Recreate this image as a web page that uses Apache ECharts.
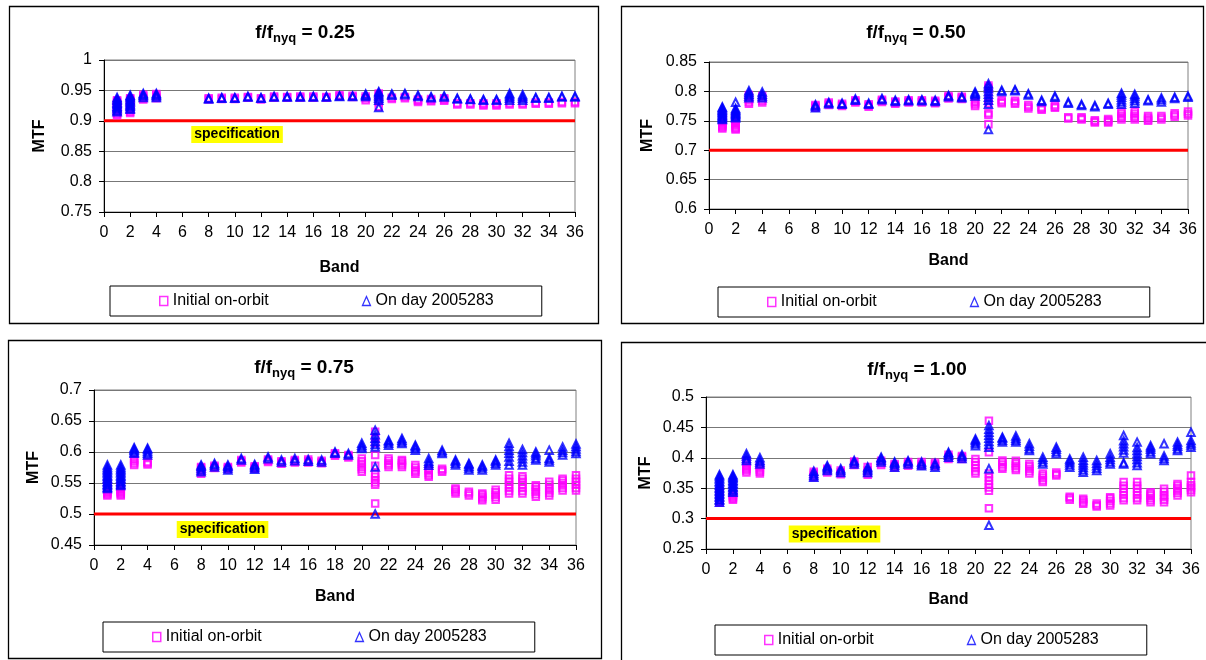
<!DOCTYPE html>
<html><head><meta charset="utf-8">
<script src="https://cdn.jsdelivr.net/npm/echarts@6/dist/echarts.min.js"></script>
<style>html,body{margin:0;padding:0;background:#fff}#c{width:1206px;height:660px}</style>
</head><body><div id="c"></div>
<script>
// ---------- DATA ----------
const bands = [1,2,3,4,8,9,10,11,12,13,14,15,16,17,18,19,20,21,22,23,24,25,26,27,28,29,30,31,32,33,34,35,36];
const seriesNames = ['Initial on-orbit', 'On day 2005283'];
const freqLabels = ['0.25', '0.50', '0.75', '1.00'];
const specValues = [0.9, 0.7, 0.5, 0.3];
const yMins = [0.75, 0.6, 0.45, 0.25];
const yMaxs = [1, 0.85, 0.7, 0.5];
const xTickStep = 2;
const yTickStep = 0.05;

// f/fnyq = 0.25
const init025 = [
 [0.909,0.911,0.914,0.916,0.918,0.921,0.923,0.925,0.928,0.93,0.932,0.934],
 [0.913,0.915,0.918,0.92,0.922,0.925,0.927,0.929,0.932,0.934,0.936,0.937],
 [0.935,0.937,0.94,0.943],[0.937,0.939,0.942,0.944],
 [0.935,0.937],[0.936,0.938],[0.936,0.938],[0.938,0.939],[0.935,0.937],[0.938,0.94],[0.938,0.939],
 [0.938,0.94],[0.938,0.94],[0.938,0.939],[0.94,0.942],[0.939,0.941],[0.934,0.937,0.94],
 [0.923,0.931,0.935,0.939,0.942,0.945],[0.936,0.938],[0.937,0.939],[0.931,0.933,0.935],
 [0.932,0.934,0.936],[0.933,0.935,0.937],[0.927,0.929],[0.927,0.929],[0.925,0.927,0.929],
 [0.925,0.927,0.929],[0.927,0.929],[0.927,0.929],[0.928,0.93],[0.928,0.93],[0.929,0.931],[0.929,0.931]
];
const day025 = [
 [0.915,0.917,0.92,0.922,0.924,0.927,0.929,0.931,0.934,0.936,0.9385],
 [0.919,0.921,0.924,0.926,0.928,0.931,0.933,0.935,0.938,0.94,0.942],
 [0.9385,0.941,0.943,0.945],[0.9385,0.941,0.943,0.945],
 [0.936,0.937],[0.937,0.938],[0.937,0.938],[0.939,0.94],[0.937,0.938],[0.939,0.94],[0.939,0.94],
 [0.939,0.94],[0.939,0.94],[0.939,0.94],[0.94,0.941],[0.94,0.941],[0.94,0.942,0.944],
 [0.922,0.934,0.937,0.94,0.943,0.946,0.948],[0.942,0.944],[0.943,0.945],[0.94,0.942],
 [0.938,0.9395],[0.939,0.941],[0.936,0.937],[0.935,0.936],[0.934,0.935],[0.934,0.935],
 [0.934,0.937,0.94,0.943,0.945],[0.934,0.937,0.94,0.943],[0.937,0.9385],[0.937,0.9385],[0.939,0.9405],[0.939,0.9405]
];
// f/fnyq = 0.50
const init050 = [
 [0.737,0.739,0.741,0.743,0.745,0.747,0.749,0.751,0.753,0.755],
 [0.735,0.737,0.739,0.742,0.744,0.746,0.748,0.75,0.752,0.755],
 [0.779,0.782,0.786,0.79,0.794],[0.781,0.784,0.788,0.792],
 [0.772,0.775,0.777],[0.777,0.779,0.781],[0.775,0.777,0.779],[0.781,0.783,0.785],[0.774,0.776,0.778],
 [0.782,0.784,0.786],[0.779,0.781,0.783],[0.781,0.783,0.785],[0.781,0.783,0.785],[0.78,0.782,0.784],
 [0.788,0.79,0.792],[0.787,0.789,0.791],[0.775,0.778,0.781,0.783],
 [0.744,0.76,0.763,0.78,0.785,0.8,0.806,0.81],[0.78,0.782,0.785],[0.779,0.781,0.784],[0.771,0.774,0.777],
 [0.769,0.771,0.773],[0.772,0.774,0.777],[0.754,0.756],[0.752,0.754,0.756],[0.747,0.749,0.751],
 [0.747,0.749,0.751,0.753],[0.752,0.755,0.758,0.762,0.765],[0.752,0.755,0.758,0.762,0.766],
 [0.75,0.752,0.755,0.758],[0.752,0.755,0.758],[0.757,0.76,0.763],[0.759,0.762,0.766]
];
const day050 = [
 [0.752,0.754,0.756,0.758,0.76,0.762,0.764,0.766,0.768,0.77,0.772,0.7735],
 [0.755,0.757,0.759,0.761,0.763,0.765,0.767,0.769,0.771,0.7815],
 [0.789,0.792,0.795,0.798,0.801],[0.789,0.792,0.795,0.799],
 [0.772,0.775,0.7775],[0.779,0.781],[0.778,0.78],[0.785,0.787],[0.778,0.78],[0.786,0.788],[0.783,0.785],
 [0.784,0.786],[0.784,0.786],[0.783,0.785],[0.791,0.793],[0.789,0.791],[0.792,0.795,0.797,0.799],
 [0.735,0.778,0.785,0.79,0.795,0.8,0.805,0.809,0.813],[0.8,0.802],[0.801,0.803],[0.794,0.796],
 [0.783,0.785],[0.79,0.792],[0.78,0.782],[0.776,0.778],[0.774,0.776],[0.778,0.78],
 [0.778,0.782,0.786,0.79,0.794,0.797],[0.78,0.784,0.788,0.792,0.795],[0.784,0.786],[0.782,0.786,0.789],
 [0.788,0.79],[0.79,0.792]
];
// f/fnyq = 0.75
const init075 = [
 [0.53,0.532,0.534,0.536,0.538,0.54,0.542,0.544,0.546,0.549],
 [0.53,0.532,0.534,0.536,0.538,0.54,0.543,0.546],
 [0.579,0.582,0.585,0.588],[0.58,0.582,0.584],
 [0.565,0.568,0.571,0.574,0.576],[0.574,0.576,0.578],[0.572,0.574,0.576],[0.583,0.585,0.587],
 [0.573,0.575,0.577],[0.584,0.586,0.588],[0.581,0.583,0.585],[0.583,0.585,0.587],[0.583,0.585,0.588],
 [0.582,0.584,0.586],[0.594,0.596,0.598],[0.591,0.593,0.595],[0.568,0.572,0.576,0.581,0.585,0.5895],
 [0.517,0.547,0.551,0.555,0.56,0.565,0.578,0.595,0.614,0.623,0.6325],
 [0.576,0.579,0.582,0.586,0.5895],[0.576,0.579,0.582,0.585,0.587],[0.565,0.568,0.571,0.575,0.579],
 [0.56,0.563,0.566,0.57,0.573],[0.568,0.5707,0.573],[0.533,0.536,0.539,0.541],[0.53,0.533,0.536],
 [0.522,0.525,0.528,0.531,0.533],[0.523,0.527,0.531,0.535,0.539],
 [0.533,0.537,0.542,0.547,0.552,0.557,0.5626],[0.533,0.537,0.542,0.547,0.552,0.557,0.561],
 [0.528,0.532,0.536,0.54,0.544,0.5465],[0.53,0.534,0.538,0.542,0.547,0.552],
 [0.538,0.542,0.546,0.55,0.554,0.557],[0.538,0.542,0.547,0.552,0.557,0.5626]
];
const day075 = [
 [0.541,0.543,0.546,0.548,0.551,0.553,0.556,0.558,0.561,0.563,0.566,0.568,0.571,0.573,0.576,0.579],
 [0.546,0.548,0.551,0.553,0.556,0.558,0.561,0.563,0.566,0.568,0.571,0.573,0.576,0.579],
 [0.598,0.6,0.603,0.605,0.607],[0.595,0.598,0.601,0.604,0.606],
 [0.568,0.571,0.574,0.577,0.579],[0.576,0.579,0.5815],[0.571,0.574,0.577,0.579],[0.587,0.5895],
 [0.572,0.575,0.578,0.58],[0.589,0.592],[0.584,0.587],[0.586,0.5895],[0.585,0.588],[0.584,0.587],
 [0.598,0.6],[0.595,0.5975],[0.6057,0.608,0.611,0.614],
 [0.5,0.576,0.608,0.612,0.617,0.622,0.628,0.635],[0.611,0.614,0.617,0.619],[0.6137,0.616,0.619,0.6217],
 [0.603,0.606,0.609,0.611],[0.5787,0.582,0.585,0.5895],[0.5975,0.6,0.603],[0.579,0.582,0.585,0.587],
 [0.571,0.574,0.577,0.58,0.5815],[0.571,0.574,0.577,0.579],[0.579,0.582,0.585,0.587],
 [0.579,0.585,0.592,0.598,0.603,0.609,0.614],[0.579,0.584,0.589,0.594,0.599,0.604],
 [0.587,0.59,0.594,0.597,0.6],[0.584,0.587,0.59,0.603],[0.595,0.599,0.603,0.608],[0.5975,0.601,0.605,0.609,0.613]
];
// f/fnyq = 1.00
const init100 = [
 [0.326,0.328,0.33,0.332,0.334,0.336,0.338,0.34,0.342,0.344,0.346],
 [0.331,0.333,0.335,0.337,0.339,0.341],
 [0.376,0.379,0.382,0.385,0.388,0.392,0.3956],[0.374,0.377,0.38,0.383,0.387],
 [0.368,0.371,0.374,0.377],[0.376,0.379,0.382],[0.373,0.376,0.379],[0.388,0.391,0.394],
 [0.372,0.375,0.379,0.385],[0.388,0.391,0.395],[0.384,0.387,0.39],[0.387,0.39,0.393],[0.387,0.39,0.393],
 [0.386,0.389,0.392],[0.398,0.401,0.405],[0.398,0.401,0.403],[0.374,0.378,0.383,0.388,0.393,0.398],
 [0.317,0.346,0.351,0.356,0.362,0.368,0.374,0.409,0.461],
 [0.382,0.385,0.389,0.393,0.3956],[0.38,0.383,0.387,0.391,0.395],[0.374,0.378,0.382,0.386,0.39],
 [0.36,0.363,0.367,0.371,0.374],[0.371,0.373,0.376],[0.331,0.334,0.336],[0.3243,0.327,0.33,0.3326],
 [0.32,0.322,0.325],[0.3216,0.325,0.329,0.333,0.335],
 [0.33,0.334,0.339,0.344,0.349,0.354,0.36],[0.33,0.334,0.339,0.344,0.349,0.354,0.36],
 [0.327,0.33,0.334,0.338,0.341,0.3435],[0.327,0.331,0.335,0.339,0.344,0.349],
 [0.338,0.342,0.346,0.35,0.354,0.357],[0.3435,0.347,0.351,0.355,0.36,0.371]
];
const day100 = [
 [0.327,0.33,0.332,0.335,0.337,0.34,0.342,0.345,0.347,0.35,0.352,0.355,0.357,0.36,0.362,0.365,0.367,0.37,0.372],
 [0.3435,0.346,0.348,0.351,0.353,0.356,0.358,0.361,0.363,0.366,0.368,0.37,0.372],
 [0.3956,0.399,0.403,0.4066],[0.39,0.393,0.396,0.4],
 [0.368,0.371,0.374,0.378],[0.379,0.382,0.385,0.387],[0.376,0.379,0.382],[0.39,0.393,0.3956],
 [0.376,0.379,0.382,0.385],[0.393,0.396,0.399,0.401],[0.3846,0.388,0.391,0.393],[0.39,0.393,0.395],
 [0.387,0.39,0.393],[0.3846,0.388,0.391],[0.401,0.404,0.407,0.409],[0.399,0.402,0.405],
 [0.42,0.423,0.426,0.429,0.431],
 [0.289,0.382,0.4175,0.422,0.427,0.432,0.437,0.442,0.447,0.453],
 [0.4258,0.429,0.432,0.434],[0.4258,0.429,0.432,0.436],[0.412,0.415,0.419,0.423],[0.39,0.393,0.397,0.401],
 [0.4066,0.41,0.414,0.4175],[0.3846,0.388,0.392,0.395,0.398],[0.3764,0.38,0.384,0.388,0.392,0.396,0.401],
 [0.379,0.383,0.387,0.391,0.3956],[0.39,0.393,0.397,0.401,0.4066],
 [0.39,0.392,0.408,0.413,0.418,0.423,0.428,0.4367],[0.3874,0.392,0.397,0.402,0.407,0.412,0.417,0.4258],
 [0.4066,0.41,0.414,0.417,0.42],[0.3956,0.399,0.403,0.423],[0.412,0.415,0.419,0.422,0.4258],
 [0.4175,0.421,0.4245,0.4285,0.442]
];
const initSets = [init025, init050, init075, init100];
const daySets = [day025, day050, day075, day100];

// ---------- LAYOUT (positions / styles) ----------
const FONT = 'Liberation Sans, Arial, sans-serif';
const layout = [
  {box:[9,6,589,317], grid:[104,60,471,152], title:[305,33], legend:[110,286], yGap:56, xGap:48, spec:[10.17,0.8775]},
  {box:[621,6,582,317], grid:[709,62,479,147], title:[916,33], legend:[718,287], yGap:53, xGap:44, spec:null},
  {box:[8,340,593,318], grid:[94,390,482,155], title:[304,368], legend:[103,622], yGap:52, xGap:44, spec:[9.6,0.475]},
  {box:[621,342,600,330], grid:[706,397,485,152], title:[917,370], legend:[715,625], yGap:52, xGap:43, spec:[9.54,0.2747]}
];

function toPoints(sets) {
  const pts = [];
  sets.forEach((vals, k) => vals.forEach(v => pts.push([bands[k], v])));
  return pts;
}

const grids = [], xAxes = [], yAxes = [], series = [], legends = [], graphics = [];
layout.forEach((L, i) => {
  grids.push({left:L.grid[0], top:L.grid[1], width:L.grid[2], height:L.grid[3], show:true,
    borderColor:'#808080', borderWidth:1, backgroundColor:'#fff', containLabel:false, outerBoundsMode:'none'});
  xAxes.push({type:'value', gridIndex:i, min:0, max:36, interval:xTickStep,
    name:'Band', nameLocation:'middle', nameGap:L.xGap,
    nameTextStyle:{fontFamily:FONT, fontSize:16, fontWeight:'bold', color:'#000'},
    axisLine:{show:true, onZero:false, lineStyle:{color:'#000', width:1}},
    axisTick:{show:true, inside:false, length:5, lineStyle:{color:'#000'}},
    axisLabel:{fontFamily:FONT, fontSize:16, color:'#000', margin:13},
    splitLine:{show:false}});
  yAxes.push({type:'value', gridIndex:i, min:yMins[i], max:yMaxs[i], interval:yTickStep,
    name:'MTF', nameLocation:'middle', nameGap:L.yGap, nameRotate:90,
    nameTextStyle:{fontFamily:FONT, fontSize:16, fontWeight:'bold', color:'#000'},
    axisLine:{show:true, onZero:false, lineStyle:{color:'#000', width:1}},
    axisTick:{show:true, inside:false, length:5, lineStyle:{color:'#000'}},
    axisLabel:{fontFamily:FONT, fontSize:16, color:'#000', margin:12},
    splitLine:{show:true, lineStyle:{color:'#777', width:1}}});
  const spec = {type:'line', xAxisIndex:i, yAxisIndex:i, data:[[0,specValues[i]],[36,specValues[i]]],
    symbol:'none', silent:true, z:2, lineStyle:{color:'#FF0000', width:3}, emphasis:{disabled:true}};
  if (L.spec) {
    spec.markPoint = {silent:true, symbol:'rect', symbolSize:1, itemStyle:{color:'rgba(0,0,0,0)'},
      data:[{coord:L.spec, label:{show:true, position:'inside', formatter:'specification',
        backgroundColor:'#FFFF00', color:'#000', fontFamily:FONT, fontSize:14, fontWeight:'bold', padding:[2,3,1,3]}}]};
  }
  series.push(spec);
  series.push({type:'scatter', name:seriesNames[0], xAxisIndex:i, yAxisIndex:i, symbol:'rect', symbolSize:6.5, z:3,
    itemStyle:{color:'rgba(255,255,255,0)', borderColor:'#FF00FF', borderWidth:2}, emphasis:{disabled:true},
    data:toPoints(initSets[i])});
  series.push({type:'scatter', name:seriesNames[1], xAxisIndex:i, yAxisIndex:i, symbol:'triangle', symbolSize:[7.5,7.5], z:4,
    itemStyle:{color:'rgba(255,255,255,0)', borderColor:'#0000FF', borderWidth:2}, emphasis:{disabled:true},
    data:toPoints(daySets[i])});
  legends.push({left:L.legend[0], top:L.legend[1], orient:'horizontal', selectedMode:false,
    padding:[7,48,7,49], itemGap:93, itemWidth:8, itemHeight:9,
    borderColor:'#000', borderWidth:1, backgroundColor:'#fff',
    textStyle:{fontFamily:FONT, fontSize:16, color:'#000'},
    data:[
      {name:seriesNames[0], icon:'rect', itemStyle:{color:'rgba(255,255,255,0)', borderColor:'#FF00FF', borderWidth:1.5}},
      {name:seriesNames[1], icon:'triangle', itemStyle:{color:'rgba(255,255,255,0)', borderColor:'#0000FF', borderWidth:1.3}}
    ]});
  graphics.push({type:'rect', silent:true, z:-1, shape:{x:L.box[0]+0.5, y:L.box[1]+0.5, width:L.box[2], height:L.box[3]},
    style:{fill:'#fff', stroke:'#000', lineWidth:1.3}});
  graphics.push({type:'text', silent:true, x:L.title[0], y:L.title[1], z:10,
    style:{text:'{a|f/f}{b|nyq}{a| = ' + freqLabels[i] + '}', align:'center', verticalAlign:'middle',
      rich:{a:{fontFamily:FONT, fontSize:19, fontWeight:'bold', fill:'#000'},
            b:{fontFamily:FONT, fontSize:13, fontWeight:'bold', fill:'#000', padding:[11,0,0,0]}}}});
});

const chart = echarts.init(document.getElementById('c'), null, {renderer:'canvas'});
chart.setOption({
  animation:false,
  backgroundColor:'#fff',
  grid:grids, xAxis:xAxes, yAxis:yAxes, series:series, legend:legends, graphic:graphics
});
</script>
</body></html>
